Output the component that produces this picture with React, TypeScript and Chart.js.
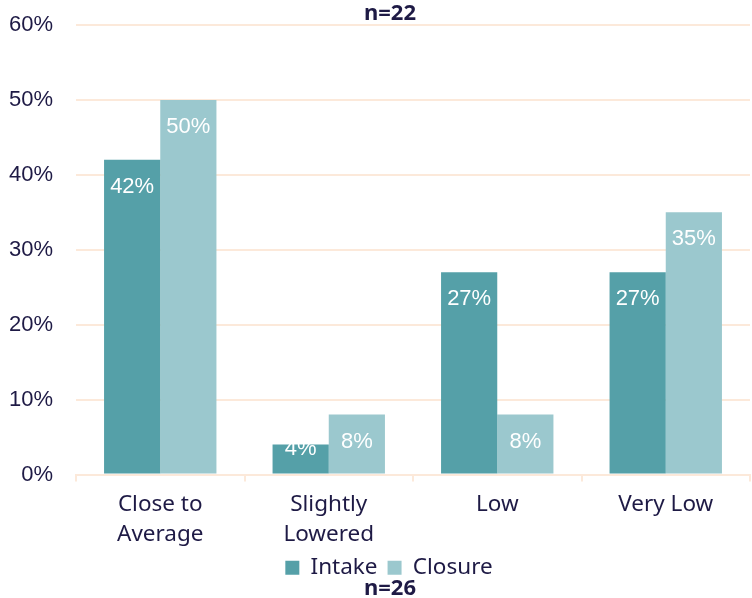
import React, { useEffect, useRef } from "react";
import { Chart, registerables } from "chart.js";

Chart.register(...registerables);

const categories: (string | string[])[] = [["Close to", "Average"], ["Slightly", "Lowered"], "Low", "Very Low"];
const intakeValues = [42, 4, 27, 27];
const closureValues = [50, 8, 8, 35];
const seriesNames = ["Intake", "Closure"];
const yMax = 60;
const yStep = 10;
const topNote = "n=22";
const bottomNote = "n=26";

const INTAKE_COLOR = "#55A0A8";
const CLOSURE_COLOR = "#9BC8CE";
const GRID_COLOR = "#FCE9DA";
const TEXT_COLOR = "#1E1A45";
const LABEL_FONT = '"Noto Sans", "Open Sans", sans-serif';
const NUM_FONT = '"Liberation Sans", Arial, sans-serif';

const barLabels = {
  id: "barLabels",
  afterDatasetsDraw(chart: any) {
    const ctx = chart.ctx;
    ctx.save();
    ctx.font = `22px ${NUM_FONT}`;
    ctx.fillStyle = "#ffffff";
    ctx.textAlign = "center";
    ctx.textBaseline = "middle";
    chart.data.datasets.forEach((ds: any, i: number) => {
      const meta = chart.getDatasetMeta(i);
      meta.data.forEach((bar: any, j: number) => {
        const v = ds.data[j];
        const y = Math.min(bar.y + 27, bar.base - 25);
        ctx.fillText(`${v}%`, bar.x, y);
      });
    });
    ctx.restore();
  },
};

const notes = {
  id: "notes",
  afterLayout(chart: any) {
    const lg = chart.legend;
    if (lg) {
      lg.left += 14;
      lg.right += 14;
      lg.top -= 8;
      lg.bottom -= 8;
    }
  },
  afterDraw(chart: any) {
    const ctx = chart.ctx;
    ctx.save();
    ctx.font = `bold 22px ${LABEL_FONT}`;
    ctx.fillStyle = TEXT_COLOR;
    ctx.textAlign = "center";
    ctx.textBaseline = "middle";
    const cx = chart.width / 2 + 14;
    ctx.fillText(topNote, cx, 14);
    ctx.fillText(bottomNote, cx, 589);
    ctx.restore();
  },
};

export default function App() {
  const ref = useRef<HTMLCanvasElement>(null);
  useEffect(() => {
    if (!ref.current) return;
    const chart = new Chart(ref.current, {
      type: "bar",
      data: {
        labels: categories,
        datasets: [
          { label: seriesNames[0], data: intakeValues, backgroundColor: INTAKE_COLOR, borderWidth: 0 },
          { label: seriesNames[1], data: closureValues, backgroundColor: CLOSURE_COLOR, borderWidth: 0 },
        ],
      },
      options: {
        responsive: false,
        animation: false,
        layout: { padding: { top: 25, bottom: 1, left: 0, right: 2 } },
        datasets: { bar: { barPercentage: 1, categoryPercentage: 0.667 } },
        plugins: {
          legend: {
            position: "bottom",
            labels: {
              boxWidth: 14,
              boxHeight: 14,
              padding: 10,
              color: TEXT_COLOR,
              font: { family: LABEL_FONT, size: 22.5 },
            },
          },
          tooltip: { enabled: false },
        },
        scales: {
          x: {
            grid: { drawOnChartArea: false, drawTicks: true, tickLength: 7, color: GRID_COLOR, lineWidth: 2 },
            border: { display: true, color: GRID_COLOR, width: 2 },
            ticks: {
              color: TEXT_COLOR,
              font: { family: LABEL_FONT, size: 22.5, lineHeight: 1.33 },
              padding: 8,
              maxRotation: 0,
            },
            afterFit: (scale: any) => {
              scale.height = 80;
              scale.paddingLeft = 0;
              scale.paddingRight = 0;
            },
          },
          y: {
            min: 0,
            max: yMax,
            grid: { color: GRID_COLOR, lineWidth: 2, drawTicks: false },
            border: { display: false },
            ticks: {
              stepSize: yStep,
              color: TEXT_COLOR,
              font: { family: NUM_FONT, size: 22 },
              padding: 23,
              callback: (v: any) => `${v}%`,
            },
            afterFit: (scale: any) => {
              scale.width = 76;
              scale.paddingTop = 0;
              scale.paddingBottom = 0;
            },
          },
        },
      },
      plugins: [barLabels, notes],
    });
    return () => chart.destroy();
  }, []);
  return (
    <div style={{ position: "fixed", left: 0, top: 0, width: 752, height: 598, background: "#fff" }}>
      <canvas ref={ref} width={752} height={598} style={{ width: 752, height: 598 }} />
    </div>
  );
}
